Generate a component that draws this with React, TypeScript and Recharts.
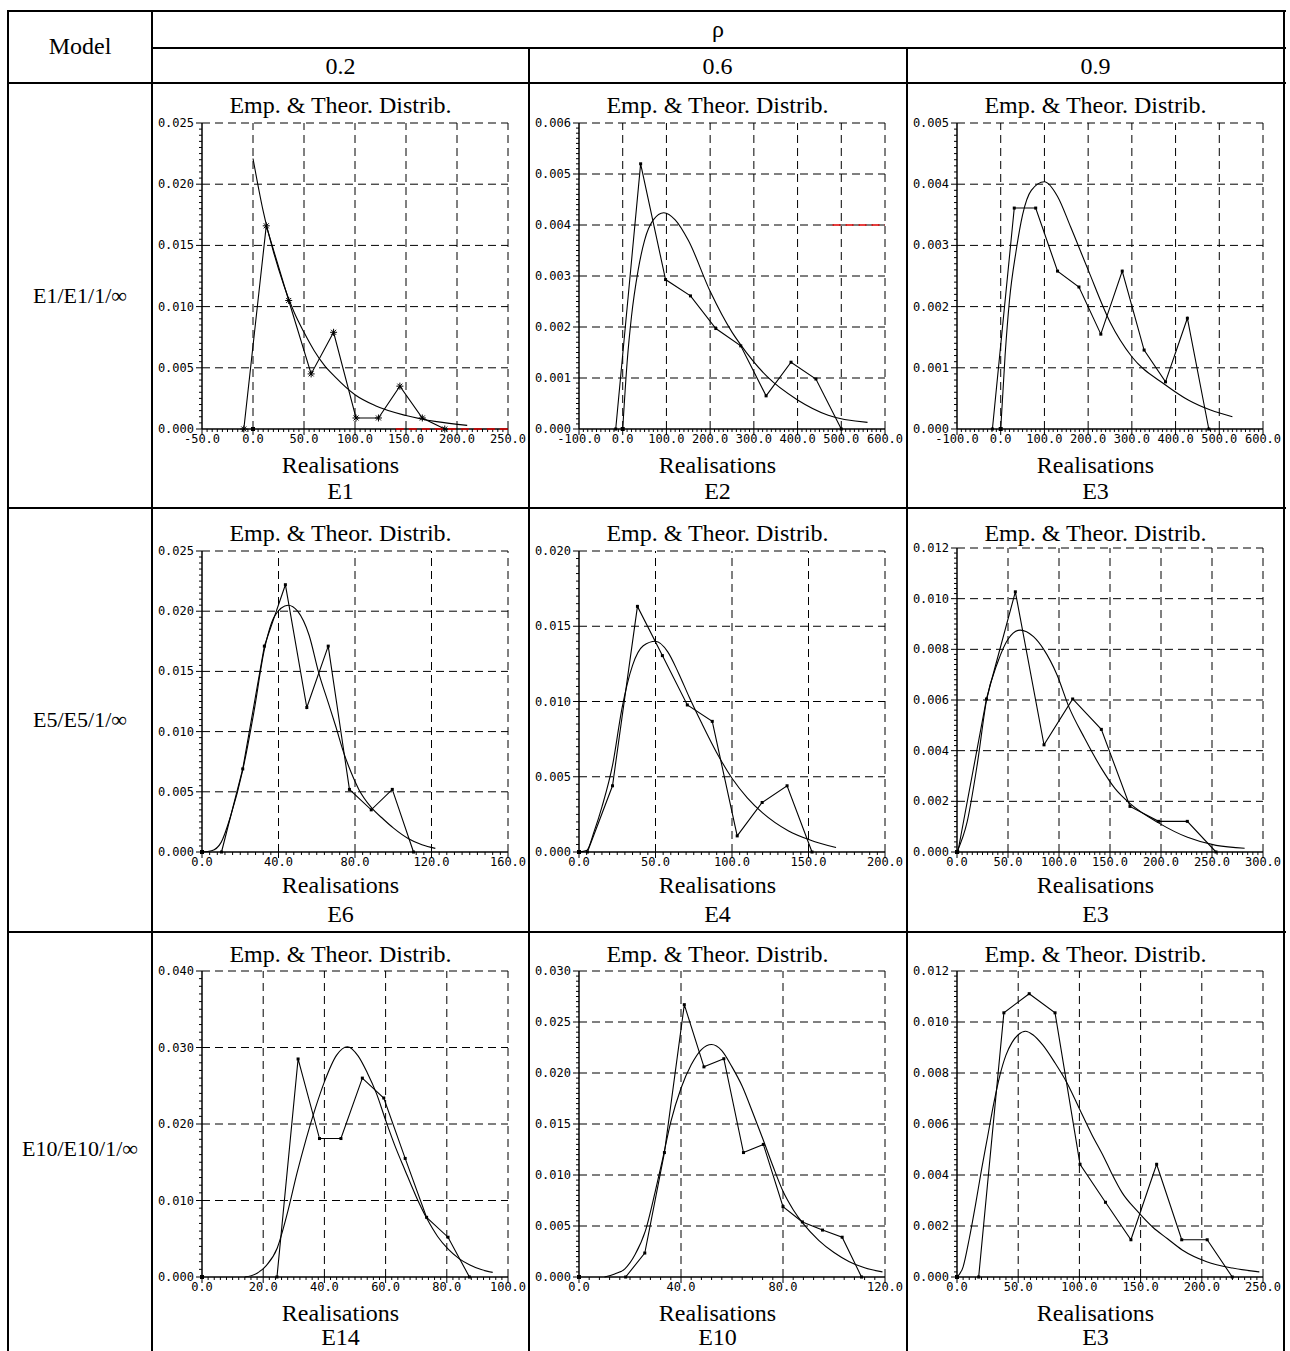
import React from 'react'
import { ComposedChart, Line, XAxis, YAxis, ReferenceLine } from 'recharts'

type Pt = [number, number]

// ---- row 1 : E1/E1/1/∞ ----
const r1c1Emp: Pt[] = [[-9, 0], [13, 0.0166], [35, 0.0105], [57, 0.0045], [79, 0.0079], [101, 0.0009], [123, 0.0009], [144, 0.0035], [166, 0.0009], [188, 0]]
const r1c1Theo: Pt[] = [[0, 0.0221], [10, 0.0178], [20, 0.0145], [30, 0.0118], [40, 0.0096], [50, 0.0079], [60, 0.0064], [70, 0.0052], [80, 0.0043], [100, 0.0028], [120, 0.0019], [150, 0.0011], [180, 0.0006], [210, 0.0003]]
const r1c2Emp: Pt[] = [[-16, 0], [41, 0.0052], [98, 0.00293], [155, 0.00261], [213, 0.00197], [270, 0.00163], [328, 0.00065], [385, 0.00131], [442, 0.00098], [500, 0]]
const r1c2Theo: Pt[] = [[0, 0], [10, 0.0013], [20, 0.0022], [35, 0.0031], [50, 0.0037], [70, 0.0041], [94, 0.00424], [120, 0.0041], [150, 0.0037], [200, 0.0027], [250, 0.0019], [270, 0.00165], [330, 0.00103], [400, 0.00057], [470, 0.00027], [560, 0.00013]]
const r1c3Emp: Pt[] = [[-19, 0], [31, 0.00361], [80, 0.00361], [130, 0.00258], [179, 0.00232], [229, 0.00155], [278, 0.00258], [328, 0.00129], [377, 0.00077], [427, 0.00181], [476, 0]]
const r1c3Theo: Pt[] = [[0, 0], [10, 0.0012], [20, 0.0021], [35, 0.0029], [50, 0.0035], [70, 0.0039], [100, 0.00404], [130, 0.0038], [160, 0.0033], [200, 0.0026], [250, 0.00175], [300, 0.00118], [377, 0.00072], [430, 0.00047], [480, 0.00031], [530, 0.0002]]

// ---- row 2 : E5/E5/1/∞ ----
const r2c1Emp: Pt[] = [[10.2, 0], [21.3, 0.0069], [32.6, 0.0171], [43.6, 0.0222], [54.8, 0.012], [66, 0.0171], [77.1, 0.0052], [88.5, 0.0035], [99.5, 0.0052], [110.6, 0]]
const r2c1Theo: Pt[] = [[0, 0], [5, 0.0001], [10, 0.0008], [15, 0.003], [21.3, 0.0068], [27, 0.0115], [32.6, 0.0168], [38, 0.0196], [45, 0.0205], [50, 0.02], [56, 0.018], [61, 0.0149], [66, 0.0124], [70, 0.0104], [74, 0.0083], [78, 0.0066], [82, 0.0052], [88.5, 0.0037], [95, 0.0027], [100, 0.002], [108, 0.0011], [115, 0.0006], [122, 0.0003]]
const r2c2Emp: Pt[] = [[5.5, 0], [21.9, 0.0044], [38.2, 0.01632], [54.5, 0.01305], [70.8, 0.00977], [87.1, 0.00868], [103.4, 0.00107], [119.7, 0.00329], [136, 0.0044], [152.3, 0]]
const r2c2Theo: Pt[] = [[0, 0], [5, 0.0001], [10, 0.0014], [15, 0.003], [22, 0.0058], [28, 0.0095], [35, 0.0124], [42, 0.0137], [50, 0.014], [58, 0.0133], [65, 0.0119], [72, 0.0103], [80, 0.0086], [90, 0.0066], [100, 0.0049], [110, 0.0036], [120, 0.0026], [137, 0.0014], [151, 0.0008], [168, 0.0003]]
const r2c3Emp: Pt[] = [[0.8, 0], [28.9, 0.00604], [57.2, 0.01027], [85.3, 0.00423], [113.4, 0.00604], [141.5, 0.00484], [169.6, 0.0018], [197.7, 0.00121], [225.8, 0.00121], [253.9, 0]]
const r2c3Theo: Pt[] = [[0, 0], [10, 0.0012], [20, 0.0035], [29, 0.006], [40, 0.0075], [50, 0.0084], [62, 0.00876], [75, 0.0085], [85, 0.008], [98, 0.007], [110, 0.0057], [125, 0.0045], [141.6, 0.0033], [155, 0.0025], [170, 0.0019], [198, 0.00114], [226, 0.00058], [254, 0.00026], [282, 0.00015]]

// ---- row 3 : E10/E10/1/∞ ----
const r3c1Emp: Pt[] = [[24.5, 0], [31.4, 0.0285], [38.4, 0.0181], [45.4, 0.0181], [52.4, 0.026], [59.4, 0.0234], [66.4, 0.0155], [73.4, 0.0078], [80.4, 0.0052], [87.4, 0]]
const r3c1Theo: Pt[] = [[14, 0], [18, 0.0005], [21, 0.0015], [24.6, 0.0038], [28, 0.0085], [31, 0.0135], [34, 0.018], [37, 0.022], [40, 0.0255], [44, 0.029], [47.5, 0.0301], [51, 0.0289], [54, 0.0267], [57, 0.024], [60, 0.0205], [63, 0.0172], [66.4, 0.0139], [70, 0.0105], [73.4, 0.0077], [77, 0.0053], [80.3, 0.0037], [84, 0.0024], [87.4, 0.0016], [91, 0.001], [95, 0.0006]]
const r3c2Emp: Pt[] = [[18.3, 0], [25.8, 0.00235], [33.5, 0.0122], [41.3, 0.0267], [49, 0.0206], [56.8, 0.0214], [64.5, 0.0122], [72.3, 0.013], [80, 0.0069], [87.6, 0.0054], [95.5, 0.0046], [103.2, 0.0039], [110.8, 0]]
const r3c2Theo: Pt[] = [[10, 0], [14, 0.0003], [18, 0.0008], [22, 0.0022], [26, 0.0045], [30, 0.0085], [33, 0.0118], [36, 0.0152], [40, 0.0185], [44, 0.0208], [48, 0.0223], [52, 0.0228], [56, 0.0222], [60, 0.0206], [64, 0.0187], [68, 0.0162], [72, 0.0136], [76, 0.0109], [80, 0.0084], [84, 0.0066], [88, 0.0052], [94, 0.0036], [100, 0.0024], [106, 0.0015], [112, 0.0009], [119, 0.0005]]
const r3c3Emp: Pt[] = [[17.7, 0], [38.3, 0.01036], [59, 0.01111], [80.1, 0.01036], [100.5, 0.00442], [121.3, 0.00293], [142.1, 0.00146], [163.1, 0.00442], [183.6, 0.00146], [204.4, 0.00146], [224.9, 0]]
const r3c3Theo: Pt[] = [[0, 0], [5, 0.0004], [10, 0.0015], [15, 0.0028], [20, 0.0042], [25, 0.0055], [30, 0.0068], [35, 0.0079], [40, 0.0087], [45, 0.0092], [50, 0.0095], [56, 0.00964], [62, 0.0095], [70, 0.0091], [80, 0.0084], [90, 0.0076], [100, 0.0066], [110, 0.0056], [120, 0.0047], [126, 0.0041], [135, 0.0033], [147, 0.0026], [160, 0.00195], [172, 0.0015], [184, 0.00106], [204, 0.0006], [225, 0.00035], [247, 0.0002]]

// major ticks of each panel
const xTicksA = [-50, 0, 50, 100, 150, 200, 250]
const xTicksB = [-100, 0, 100, 200, 300, 400, 500, 600]
const xTicksE6 = [0, 40, 80, 120, 160]
const xTicksE4 = [0, 50, 100, 150, 200]
const xTicks300 = [0, 50, 100, 150, 200, 250, 300]
const xTicksE14 = [0, 20, 40, 60, 80, 100]
const xTicksE10 = [0, 40, 80, 120]
const xTicks250 = [0, 50, 100, 150, 200, 250]
const yTicks025 = [0, 0.005, 0.01, 0.015, 0.02, 0.025]
const yTicks006 = [0, 0.001, 0.002, 0.003, 0.004, 0.005, 0.006]
const yTicks005 = [0, 0.001, 0.002, 0.003, 0.004, 0.005]
const yTicks020 = [0, 0.005, 0.01, 0.015, 0.02]
const yTicks012 = [0, 0.002, 0.004, 0.006, 0.008, 0.01, 0.012]
const yTicks040 = [0, 0.01, 0.02, 0.03, 0.04]
const yTicks030 = [0, 0.005, 0.01, 0.015, 0.02, 0.025, 0.03]

const rhoValues = ['0.2', '0.6', '0.9']
const modelLabels = ['E1/E1/1/\u221e', 'E5/E5/1/\u221e', 'E10/E10/1/\u221e']
const panelNames = [['E1', 'E2', 'E3'], ['E6', 'E4', 'E3'], ['E14', 'E10', 'E3']]

type Seg = [Pt, Pt]
type Panel = { emp: Pt[]; theo: Pt[]; xt: number[]; yt: number[]; star?: boolean; red?: Seg; topAdj?: number }

const panels: Panel[][] = [
  [
    { emp: r1c1Emp, theo: r1c1Theo, xt: xTicksA, yt: yTicks025, star: true, red: [[140, 0], [250, 0]] },
    { emp: r1c2Emp, theo: r1c2Theo, xt: xTicksB, yt: yTicks006, red: [[480, 0.004], [600, 0.004]] },
    { emp: r1c3Emp, theo: r1c3Theo, xt: xTicksB, yt: yTicks005 },
  ],
  [
    { emp: r2c1Emp, theo: r2c1Theo, xt: xTicksE6, yt: yTicks025 },
    { emp: r2c2Emp, theo: r2c2Theo, xt: xTicksE4, yt: yTicks020 },
    { emp: r2c3Emp, theo: r2c3Theo, xt: xTicks300, yt: yTicks012, topAdj: -3 },
  ],
  [
    { emp: r3c1Emp, theo: r3c1Theo, xt: xTicksE14, yt: yTicks040 },
    { emp: r3c2Emp, theo: r3c2Theo, xt: xTicksE10, yt: yTicks030 },
    { emp: r3c3Emp, theo: r3c3Theo, xt: xTicks250, yt: yTicks012 },
  ],
]

// layout
const colLeft = [152, 529, 907]
const plotTop = [123, 551, 971]
const plotH = [306, 301, 306]
const titleY = [105, 533, 953.5]
const realY = [465, 885, 1313]
const nameY = [491, 913.5, 1337]
const rowMid = [296, 720, 1149]

const serif = '"Liberation Serif", "Times New Roman", serif'
const mono = '"DejaVu Sans Mono", monospace'
const dash = '8 5'

const withMinor = (majors: number[], sub = 10) => {
  const out: number[] = []
  for (let i = 0; i < majors.length - 1; i++) {
    const step = (majors[i + 1] - majors[i]) / sub
    for (let k = 0; k < sub; k++) out.push(+(majors[i] + k * step).toFixed(7))
  }
  out.push(majors[majors.length - 1])
  return out
}
const isMajor = (v: number, majors: number[]) => majors.some((m) => Math.abs(m - v) < 1e-9)
const toPts = (a: Pt[]) => a.map(([x, y]) => ({ x, y }))

const xTick = (majors: number[]) => (p: any) => {
  const v = p.payload.value
  const major = isMajor(v, majors)
  return (
    <g>
      <line x1={p.x} x2={p.x} y1={p.y} y2={p.y + (major ? 6 : 3)} stroke="#000" strokeWidth={1} />
      {major && (
        <text x={p.x} y={p.y + 9.5} textAnchor="middle" dominantBaseline="central" fontFamily={mono} fontSize={12} fill="#000">
          {v.toFixed(1)}
        </text>
      )}
    </g>
  )
}

const yTick = (majors: number[]) => (p: any) => {
  const v = p.payload.value
  const major = isMajor(v, majors)
  return (
    <g>
      <line x1={p.x} x2={p.x - (major ? 6 : 3)} y1={p.y} y2={p.y} stroke="#000" strokeWidth={1} />
      {major && (
        <text x={p.x - 8} y={p.y} textAnchor="end" dominantBaseline="central" fontFamily={mono} fontSize={12} fill="#000">
          {v.toFixed(3)}
        </text>
      )}
    </g>
  )
}

const squareDot = (p: any) => (
  <rect key={`d${p.index}`} x={p.cx - 1.5} y={p.cy - 1.5} width={3} height={3} fill="#000" />
)
const starDot = (p: any) => (
  <g key={`s${p.index}`} stroke="#000" strokeWidth={1}>
    <line x1={p.cx - 3.5} x2={p.cx + 3.5} y1={p.cy} y2={p.cy} />
    <line x1={p.cx} x2={p.cx} y1={p.cy - 3.5} y2={p.cy + 3.5} />
    <line x1={p.cx - 2.5} x2={p.cx + 2.5} y1={p.cy - 2.5} y2={p.cy + 2.5} />
    <line x1={p.cx - 2.5} x2={p.cx + 2.5} y1={p.cy + 2.5} y2={p.cy - 2.5} />
  </g>
)
const originDot = (p: any) => (
  <rect key={`o${p.index}`} x={p.cx - 2} y={p.cy - 2} width={4} height={4} fill="#000" />
)

function Chart({ cfg, left, top, h }: { cfg: Panel; left: number; top: number; h: number }) {
  const xMin = cfg.xt[0]
  const xMax = cfg.xt[cfg.xt.length - 1]
  const yMax = cfg.yt[cfg.yt.length - 1]
  return (
    <div style={{ position: 'absolute', left, top: top - 10 }}>
      <ComposedChart width={378} height={h + 34} margin={{ top: 10, right: 22, bottom: 0, left: 0 }}>
        <XAxis
          dataKey="x"
          type="number"
          domain={[xMin, xMax]}
          ticks={withMinor(cfg.xt)}
          interval={0}
          height={24}
          tickSize={0}
          tickMargin={0}
          tickLine={false}
          axisLine={{ stroke: '#000', strokeWidth: 1.5 }}
          tick={xTick(cfg.xt)}
        />
        <YAxis
          type="number"
          domain={[0, yMax]}
          ticks={withMinor(cfg.yt)}
          interval={0}
          width={50}
          tickSize={0}
          tickMargin={0}
          tickLine={false}
          axisLine={{ stroke: '#000', strokeWidth: 1.5 }}
          tick={yTick(cfg.yt)}
        />
        {cfg.xt.slice(1).map((v) => (
          <ReferenceLine key={`gx${v}`} x={v} stroke="#000" strokeWidth={1} strokeDasharray={dash} />
        ))}
        {cfg.yt.slice(1).map((v) => (
          <ReferenceLine key={`gy${v}`} y={v} stroke="#000" strokeWidth={1} strokeDasharray={dash} />
        ))}
        <Line data={toPts(cfg.theo)} dataKey="y" type="monotone" stroke="#000" strokeWidth={1.1} dot={false} isAnimationActive={false} />
        <Line data={toPts(cfg.emp)} dataKey="y" type="linear" stroke="#000" strokeWidth={1.1} dot={cfg.star ? starDot : squareDot} isAnimationActive={false} />
        <Line data={[{ x: 0, y: 0 }]} dataKey="y" stroke="none" dot={originDot} isAnimationActive={false} />
        {cfg.red && (
          <ReferenceLine
            segment={[{ x: cfg.red[0][0], y: cfg.red[0][1] }, { x: cfg.red[1][0], y: cfg.red[1][1] }]}
            stroke="#e00000"
            strokeWidth={1.5}
            strokeDasharray={dash}
            ifOverflow="visible"
            {...({ zIndex: 2000 } as any)}
          />
        )}
      </ComposedChart>
    </div>
  )
}

const Txt = ({ x, y, size = 24, children }: { x: number; y: number; size?: number; children: React.ReactNode }) => (
  <div
    style={{
      position: 'absolute',
      left: x,
      top: y,
      transform: 'translate(-50%, -50%)',
      fontSize: size,
      lineHeight: 0.75,
      whiteSpace: 'nowrap',
      color: '#000',
    }}
  >
    {children}
  </div>
)

const hLines: [number, number, number][] = [
  [11, 8, 1285], [47.5, 152, 1285], [83, 8, 1285], [508, 8, 1285], [932, 8, 1285],
]
const vLines: [number, number, number][] = [
  [8, 11, 1351], [152, 11, 1351], [529, 47.5, 1351], [907, 47.5, 1351], [1284, 11, 1351],
]

export default function App() {
  return (
    <div style={{ position: 'absolute', left: 0, top: 0, width: 1290, height: 1351, background: '#fff', fontFamily: serif, overflow: 'hidden' }}>
      {hLines.map(([y, x1, x2], i) => (
        <div key={`h${i}`} style={{ position: 'absolute', left: x1 - 1, top: y - 1, width: x2 - x1 + 2, height: 2, background: '#000' }} />
      ))}
      {vLines.map(([x, y1, y2], i) => (
        <div key={`v${i}`} style={{ position: 'absolute', left: x - 1, top: y1 - 1, width: 2, height: y2 - y1 + 1, background: '#000' }} />
      ))}

      <Txt x={80} y={46}>Model</Txt>
      <Txt x={718} y={29}>ρ</Txt>
      {rhoValues.map((r, c) => (
        <Txt key={r} x={colLeft[c] + 188.5} y={65.5}>{r}</Txt>
      ))}
      {modelLabels.map((m, r) => (
        <Txt key={m} x={80} y={rowMid[r]} size={22}>{m}</Txt>
      ))}

      {panels.map((row, r) =>
        row.map((cfg, c) => (
          <React.Fragment key={`p${r}${c}`}>
            <Txt x={colLeft[c] + 188.5} y={titleY[r]}>Emp. &amp; Theor. Distrib.</Txt>
            <Chart cfg={cfg} left={colLeft[c]} top={plotTop[r] + (cfg.topAdj ?? 0)} h={plotH[r] - (cfg.topAdj ?? 0)} />
            <Txt x={colLeft[c] + 188.5} y={realY[r]}>Realisations</Txt>
            <Txt x={colLeft[c] + 188.5} y={nameY[r]}>{panelNames[r][c]}</Txt>
          </React.Fragment>
        ))
      )}
    </div>
  )
}
